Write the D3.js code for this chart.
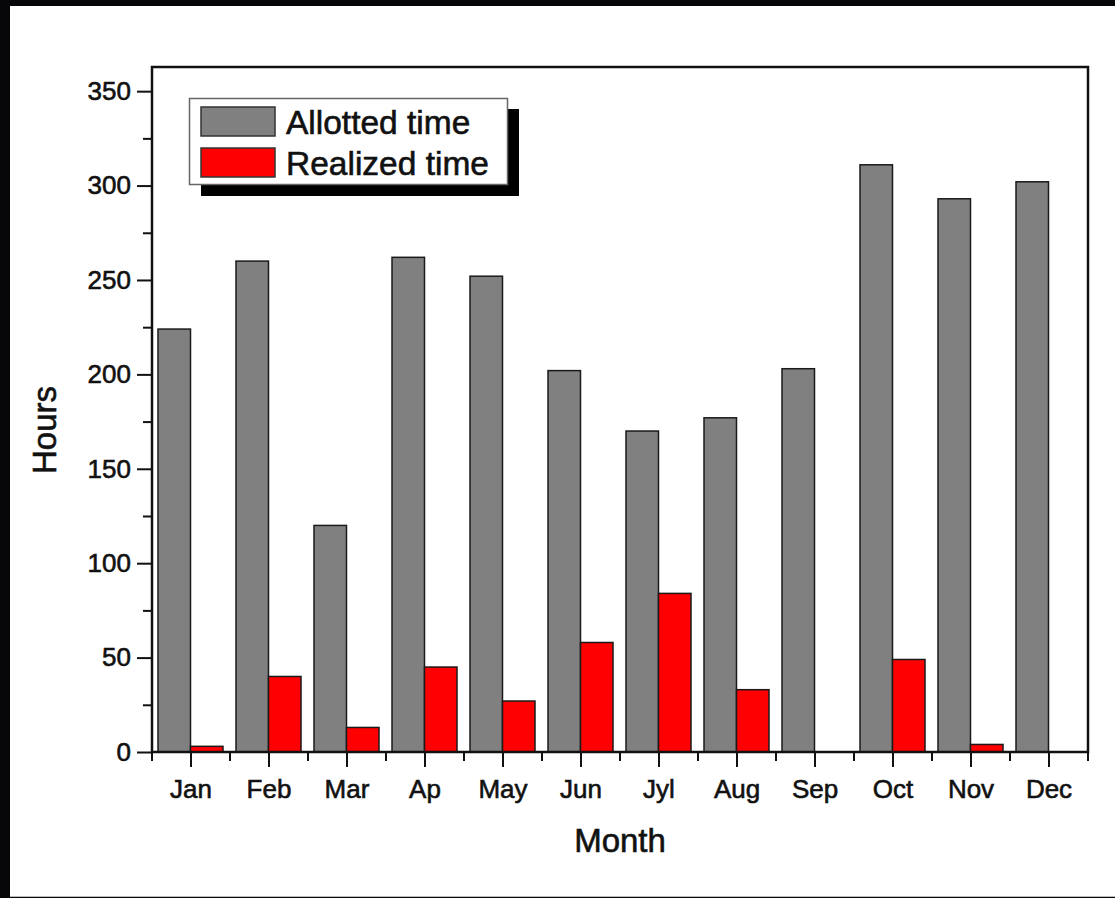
<!DOCTYPE html>
<html>
<head>
<meta charset="utf-8">
<script src="https://cdn.jsdelivr.net/npm/d3@7"></script>
<style>
  html, body { margin: 0; padding: 0; background: #060608; }
  svg { display: block; }
  text { font-family: "Liberation Sans", Arial, Helvetica, sans-serif; fill: #111; stroke: #111; stroke-width: 0.6px; }
</style>
</head>
<body>
<svg id="chart" width="1115" height="898"></svg>
<script>
const months = ["Jan","Feb","Mar","Ap","May","Jun","Jyl","Aug","Sep","Oct","Nov","Dec"];
const allotted = [224, 260, 120, 262, 252, 202, 170, 177, 203, 311, 293, 302];
const realized = [3, 40, 13, 45, 27, 58, 84, 33, 0, 49, 4, 0];
const seriesNames = ["Allotted time", "Realized time"];
const seriesColors = ["#808080", "#ff0000"];
const yMajorTicks = [0, 50, 100, 150, 200, 250, 300, 350];
const yMinorTicks = [25, 75, 125, 175, 225, 275, 325];

(function () {
const svg = d3.select("#chart");

// background panel
svg.append("rect").attr("x", 0).attr("y", 0).attr("width", 1115).attr("height", 898).attr("fill", "#060608");
svg.append("rect").attr("x", 10).attr("y", 6).attr("width", 1105).attr("height", 890).attr("fill", "#ffffff");
svg.append("line").attr("x1", 10).attr("x2", 1115).attr("y1", 896.5).attr("y2", 896.5).attr("stroke", "#bbb").attr("stroke-width", 1);

const mL = 152, mR = 1088, mT = 67, mB = 752;

const x = d3.scaleBand().domain(months).range([mL, mR]).paddingInner(0).paddingOuter(0);
const xSub = d3.scaleBand().domain(seriesNames).range([6, x.bandwidth() - 7]).padding(0);
const y = d3.scaleLinear().domain([0, 362.8]).range([mB, mT]);

const data = months.map((m, i) => ({ month: m, values: [allotted[i], realized[i]] }));

// bars
const groups = svg.append("g").selectAll("g").data(data).join("g")
  .attr("transform", d => `translate(${x(d.month)},0)`);
groups.selectAll("rect").data(d => d.values.map((v, j) => ({ v, j })).filter(e => e.v > 0))
  .join("rect")
  .attr("x", d => xSub(seriesNames[d.j]))
  .attr("width", xSub.bandwidth())
  .attr("y", d => y(d.v))
  .attr("height", d => y(0) - y(d.v))
  .attr("fill", d => seriesColors[d.j])
  .attr("stroke", "#1a1a1a")
  .attr("stroke-width", 1.5);

// y axis
const yAxis = d3.axisLeft(y).tickValues(yMajorTicks).tickSize(15).tickPadding(6).tickFormat(d3.format("d"));
const gy = svg.append("g").attr("transform", `translate(${mL},0)`).call(yAxis);
gy.select(".domain").remove();
gy.selectAll(".tick line").attr("stroke", "#111").attr("stroke-width", 2);
gy.selectAll(".tick text").attr("font-size", 26).attr("fill", "#111")
  .attr("font-family", "'Liberation Sans', Arial, sans-serif");
const yMinor = d3.axisLeft(y).tickValues(yMinorTicks).tickSize(9).tickFormat("");
const gym = svg.append("g").attr("transform", `translate(${mL},0)`).call(yMinor);
gym.select(".domain").remove();
gym.selectAll(".tick line").attr("stroke", "#111").attr("stroke-width", 2);

// x axis
const xAxis = d3.axisBottom(x).tickSize(15).tickPadding(13);
const gx = svg.append("g").attr("transform", `translate(0,${mB})`).call(xAxis);
gx.select(".domain").remove();
gx.selectAll(".tick line").attr("stroke", "#111").attr("stroke-width", 2);
gx.selectAll(".tick text").attr("font-size", 26).attr("fill", "#111")
  .attr("font-family", "'Liberation Sans', Arial, sans-serif");
// minor x ticks at band boundaries
const bounds = months.map(m => x(m)).concat([x(months[months.length - 1]) + x.bandwidth()]);
svg.append("g").selectAll("line").data(bounds).join("line")
  .attr("x1", d => d).attr("x2", d => d)
  .attr("y1", mB).attr("y2", mB + 9)
  .attr("stroke", "#111").attr("stroke-width", 2);

// frame
svg.append("rect").attr("x", mL).attr("y", mT).attr("width", mR - mL).attr("height", mB - mT)
  .attr("fill", "none").attr("stroke", "#111").attr("stroke-width", 2.5);

// axis titles
svg.append("text").attr("x", (mL + mR) / 2).attr("y", 852).attr("text-anchor", "middle")
  .attr("font-size", 33).text("Month");
svg.append("text").attr("transform", "translate(56,430) rotate(-90)").attr("text-anchor", "middle")
  .attr("font-size", 33).text("Hours");

// legend
const lg = svg.append("g");
lg.append("rect").attr("x", 201).attr("y", 109).attr("width", 318).attr("height", 87).attr("fill", "#000");
lg.append("rect").attr("x", 189.5).attr("y", 98.5).attr("width", 318).attr("height", 86)
  .attr("fill", "#fff").attr("stroke", "#666").attr("stroke-width", 1.5);
const items = lg.selectAll("g.item").data(seriesNames).join("g").attr("class", "item")
  .attr("transform", (d, i) => `translate(0,${i * 41})`);
items.append("rect").attr("x", 201).attr("y", 107).attr("width", 74).attr("height", 29)
  .attr("fill", (d, i) => seriesColors[i]).attr("stroke", "#333").attr("stroke-width", 1.5);
items.append("text").attr("x", 286).attr("y", 134).attr("font-size", 33.5).text(d => d);
})();
</script>
</body>
</html>
